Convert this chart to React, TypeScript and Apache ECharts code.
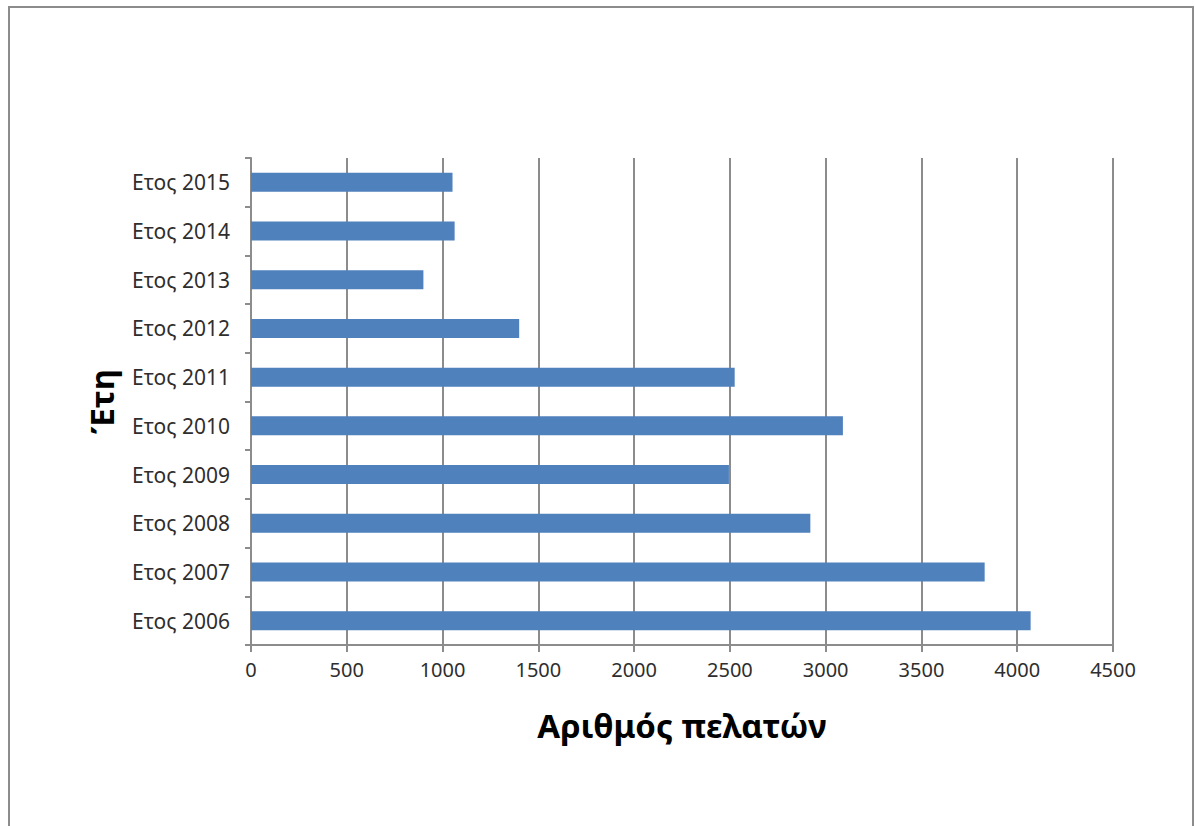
import React, { useEffect, useRef } from "react";
import * as echarts from "echarts";

// Customers per year
const years = [
  "Ετος 2006",
  "Ετος 2007",
  "Ετος 2008",
  "Ετος 2009",
  "Ετος 2010",
  "Ετος 2011",
  "Ετος 2012",
  "Ετος 2013",
  "Ετος 2014",
  "Ετος 2015",
];
const customers = [4070, 3830, 2920, 2495, 3090, 2525, 1400, 900, 1063, 1052];

const xAxisTitle = "Αριθμός πελατών";
const yAxisTitle = "Έτη";

const FONT = "'Noto Sans', 'Open Sans', sans-serif";
const AXIS_GREY = "#8c8c8c";

export default function App() {
  const ref = useRef<HTMLDivElement>(null);

  useEffect(() => {
    if (!ref.current) return;
    const chart = echarts.init(ref.current, null, { renderer: "svg" });
    chart.setOption({
      animation: false,
      backgroundColor: "#ffffff",
      graphic: [
        {
          type: "rect",
          shape: { x: 9, y: 7, width: 1184, height: 840 },
          style: { fill: "none", stroke: "#8c8c8c", lineWidth: 2 },
          silent: true,
        },
      ],
      grid: { left: 251, right: 82, top: 158, bottom: 181, containLabel: false },
      xAxis: {
        type: "value",
        min: 0,
        max: 4500,
        interval: 500,
        name: xAxisTitle,
        nameLocation: "middle",
        nameGap: 64,
        nameTextStyle: { fontFamily: FONT, fontWeight: "bold", fontSize: 33, color: "#000" },
        axisLine: { show: true, lineStyle: { color: AXIS_GREY, width: 2 } },
        axisTick: { show: true, length: 7, lineStyle: { color: AXIS_GREY, width: 2 } },
        axisLabel: {
          fontFamily: FONT,
          fontSize: 20,
          color: "#2e2e2e",
          margin: 14,
          formatter: (v: number) => String(v),
        },
        splitLine: { show: true, lineStyle: { color: AXIS_GREY, width: 2 } },
      },
      yAxis: {
        type: "category",
        data: years,
        boundaryGap: true,
        name: yAxisTitle,
        nameLocation: "middle",
        nameGap: 133,
        nameRotate: 90,
        nameTextStyle: { fontFamily: FONT, fontWeight: "bold", fontSize: 33, color: "#000" },
        axisLine: { show: true, lineStyle: { color: AXIS_GREY, width: 2 } },
        axisTick: { show: true, length: 6, alignWithLabel: false, lineStyle: { color: AXIS_GREY, width: 2 } },
        axisLabel: { fontFamily: FONT, fontSize: 21, color: "#2e2e2e", margin: 21 },
        splitLine: { show: false },
      },
      series: [
        {
          type: "bar",
          data: customers,
          barWidth: 19,
          itemStyle: { color: "#4f81bd" },
        },
      ],
    });
    return () => chart.dispose();
  }, []);

  return (
    <div
      ref={ref}
      style={{ position: "fixed", left: 0, top: 0, width: 1195, height: 826 }}
    />
  );
}
